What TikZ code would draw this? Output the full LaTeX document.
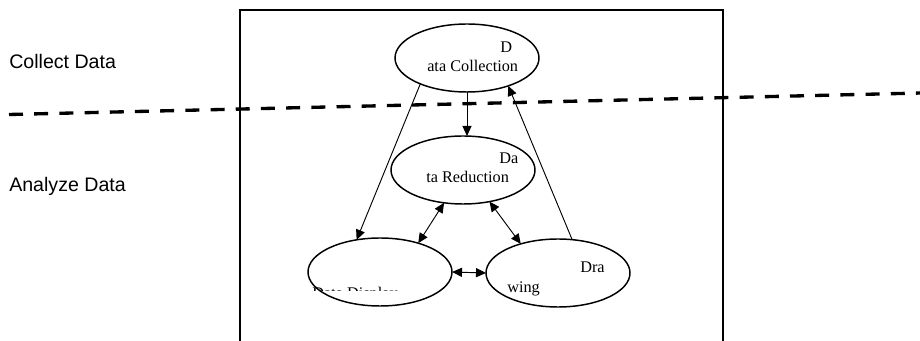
\documentclass[tikz,border=0pt]{standalone}
\usepackage{fontspec}
\setmainfont{Liberation Serif}
\newfontfamily\labelfont{Liberation Sans}
\usetikzlibrary{shapes.geometric,arrows.meta}

\begin{document}
\begin{tikzpicture}[x=0.75pt,y=-0.75pt,
  stage/.style={ellipse,draw,line width=1.1pt,minimum width=108pt,minimum height=51pt,inner sep=0pt,outer sep=0pt},
  tip/.tip={Triangle[length=7.5pt,width=6.8pt]},
  flow/.style={line width=0.7pt,-tip},
  twoway/.style={line width=0.7pt,tip-tip},
  etxt/.style={font=\fontsize{12.2}{14}\selectfont,inner sep=0pt,anchor=base west},
  rowlabel/.style={font=\labelfont\fontsize{14.7}{17}\selectfont,inner sep=0pt,anchor=base west},
  boundary/.style={line width=2.5pt,dash pattern=on 10.5pt off 8.4pt}]

\useasboundingbox (0,0) rectangle (920,341);
\fill[white] (0,0) rectangle (920,341);

% frame around the process
\draw[line width=1pt] (240,345) -- (240,10) -- (723,10) -- (723,345);

% stages
\node[stage] (coll) at (467,58) {};
\node[stage] (red)  at (463,170) {};
\node[stage] (disp) at (380,272) {};
\node[stage] (drw)  at (558,273) {};

% stage texts
\node[etxt] (colltxtA) at (500,53) {D};
\node[etxt] (colltxtB) at (427,72) {ata Collection};
\node[etxt] (redtxtA)  at (499,164) {Da};
\node[etxt] (redtxtB)  at (426,183) {ta Reduction};
\node[etxt] (drwtxtA)  at (580,273) {Dra};
\node[etxt] (drwtxtB)  at (507,292.5) {wing};
\begin{scope}
  \clip (300,280) rectangle (400,290.2);
  \node[etxt] (disptxt) at (312,299) {Data Display};
\end{scope}

% row labels
\node[rowlabel] (lblcollect) at (9,69) {Collect Data};
\node[rowlabel] (lblanalyze) at (9,192) {Analyze Data};

% connectors
\draw[flow] (coll.209) -- (disp.126);
\draw[flow] (coll.south) -- (coll.south |- red.north);
\draw[flow] (drw.67) -- (coll.-34);
\draw[twoway] (red.240) -- (disp.37);
\draw[twoway] (red.-50) -- (drw.142);
\draw[twoway] (disp.east) -- (drw.west);

% boundary between the two phases
\coordinate (dl) at (9,114.5);
\coordinate (dr) at (921,93);
\draw[boundary] (dl) -- (dr);
\end{tikzpicture}
\end{document}
